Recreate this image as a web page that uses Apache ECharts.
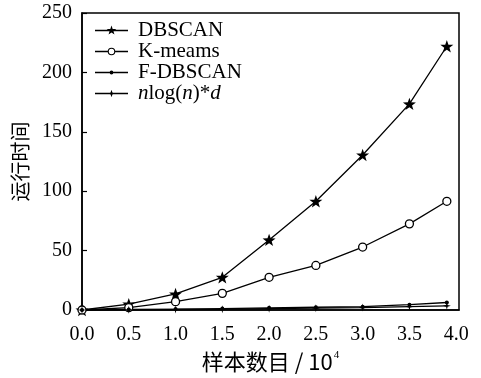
<!DOCTYPE html>
<html>
<head>
<meta charset="utf-8">
<script src="https://cdn.jsdelivr.net/npm/echarts@6/dist/echarts.min.js"></script>
<style>html,body{margin:0;padding:0;background:#fff}#c{width:481px;height:378px}</style>
</head>
<body>
<div id="c"></div>
<script>
const xValues = [0, 0.5, 1.0, 1.5, 2.0, 2.5, 3.0, 3.5, 3.9];
const dbscan = [0, 5, 13.5, 27.5, 59, 91.5, 130.5, 173.5, 222];
const kmeans = [0, 2, 7, 14, 27.5, 37.5, 53, 72.5, 91.5];
const fdbscan = [0, 0.5, 0.8, 1.2, 1.8, 2.3, 2.8, 4.5, 6.3];
const nlogd = [0, 0.2, 0.4, 0.7, 1.1, 1.5, 2.0, 2.8, 3.5];
const seriesNames = ['DBSCAN', 'K-meams', 'F-DBSCAN', 'nlog(n)*d'];

function starPts(cx, cy, R, r, n) {
  const pts = [];
  for (let k = 0; k < 2 * n; k++) {
    const a = -Math.PI / 2 + k * Math.PI / n;
    const rad = k % 2 === 0 ? R : r;
    pts.push((cx + rad * Math.cos(a)).toFixed(2) + ',' + (cy + rad * Math.sin(a)).toFixed(2));
  }
  return 'M' + pts.join(' L') + ' Z';
}
function circlePath(cx, cy, r, sweep) {
  return `M${cx + r},${cy} A${r},${r} 0 1 ${sweep} ${cx - r},${cy} A${r},${r} 0 1 ${sweep} ${cx + r},${cy} Z`;
}
const starPath = 'path://' + starPts(0, 0, 100, 40, 5);
const star4Path = 'path://' + starPts(0, 0, 100, 28, 4);

// legend icons: box 380 x 140 (10 units per px), line 0..330
const W = 380, H = 140, L = 330, CX = 165, CY = 70, T = 6.5;
const anchors = `M0,0 L0.5,0 L0,0.5 Z M${W},${H} L${W - 0.5},${H} L${W},${H - 0.5} Z `;
const rect = (x0, x1) => `M${x0},${CY - T} L${x1},${CY - T} L${x1},${CY + T} L${x0},${CY + T} Z `;
const iconStar = 'path://' + anchors + rect(0, L) + starPts(CX, CY, 50, 20, 5);
const iconCircle = 'path://' + anchors + rect(0, CX - 36) + rect(CX + 36, L) + circlePath(CX, CY, 38, 1) + ' ' + circlePath(CX, CY, 27, 0);
const iconDot = 'path://' + anchors + rect(0, L) + circlePath(CX, CY, 19, 1);
const iconStar4 = 'path://' + anchors + rect(0, L) + starPts(CX, CY, 38, 13, 4);
const legendIcons = [iconStar, iconCircle, iconDot, iconStar4];

const pairs = arr => xValues.map((x, i) => [x, arr[i]]);
const FONT = '"Liberation Serif", "Times New Roman", serif';
const CJK = '"Noto Sans CJK SC", sans-serif';

const chart = echarts.init(document.getElementById('c'));
const lineStyle = { color: '#000', width: 1.3 };
chart.setOption({
  animation: false,
  backgroundColor: '#fff',
  grid: { left: 82, right: 22, top: 13, bottom: 68, show: true, borderColor: '#000', borderWidth: 1.5 },
  legend: {
    left: 95, top: 20, padding: 0, orient: 'vertical', itemWidth: 38, itemHeight: 14, itemGap: 0,
    textStyle: { fontFamily: FONT, fontSize: 21, color: '#000', lineHeight: 21,
      rich: { i: { fontFamily: FONT, fontSize: 21, fontStyle: 'italic', color: '#000', lineHeight: 21 },
              n: { fontFamily: FONT, fontSize: 21, color: '#000', lineHeight: 21 } } },
    formatter: name => name === 'nlog(n)*d' ? '{i|n}{n|log(}{i|n}{n|)*}{i|d}' : name,
    data: seriesNames.map((n, i) => ({ name: n, icon: legendIcons[i], itemStyle: { color: '#000', borderWidth: 0 } }))
  },
  xAxis: {
    type: 'value', min: 0, max: 4.03, interval: 0.5,
    name: '{a|样本数目 / 10}{s|4}', nameLocation: 'middle', nameGap: 39,
    nameTextStyle: { rich: { a: { fontFamily: CJK, fontSize: 22, color: '#000' },
                             s: { fontFamily: FONT, fontSize: 11, color: '#000', verticalAlign: 'top', padding: [0, 0, 12, 1] } } },
    axisLine: { lineStyle: { color: '#000', width: 1.5 } },
    axisTick: { show: false },
    splitLine: { show: false },
    axisLabel: { fontFamily: FONT, fontSize: 20, color: '#000', margin: 15,
      formatter: v => Math.abs(v * 2 - Math.round(v * 2)) < 1e-6 ? v.toFixed(1) : '' }
  },
  yAxis: {
    type: 'value', min: 0, max: 250, interval: 50,
    name: '运行时间', nameLocation: 'middle', nameGap: 52,
    nameTextStyle: { fontFamily: CJK, fontSize: 20, color: '#000' },
    axisLine: { show: true, lineStyle: { color: '#000', width: 1.5 } },
    axisTick: { show: true, inside: true, length: 5, lineStyle: { color: '#000', width: 1.2 } },
    splitLine: { show: false },
    axisLabel: { fontFamily: FONT, fontSize: 20, color: '#000', margin: 10 }
  },
  series: [
    { name: 'DBSCAN', type: 'line', data: pairs(dbscan), symbol: starPath, symbolKeepAspect: true, symbolSize: 13,
      itemStyle: { color: '#000' }, lineStyle },
    { name: 'K-meams', type: 'line', data: pairs(kmeans), symbol: 'circle', symbolSize: 8,
      itemStyle: { color: '#fff', borderColor: '#000', borderWidth: 1.3 }, lineStyle },
    { name: 'F-DBSCAN', type: 'line', data: pairs(fdbscan), symbol: 'circle', symbolSize: 4,
      itemStyle: { color: '#000' }, lineStyle },
    { name: 'nlog(n)*d', type: 'line', data: pairs(nlogd), symbol: star4Path, symbolKeepAspect: true, symbolSize: 8,
      itemStyle: { color: '#000' }, lineStyle }
  ]
});
</script>
</body>
</html>
